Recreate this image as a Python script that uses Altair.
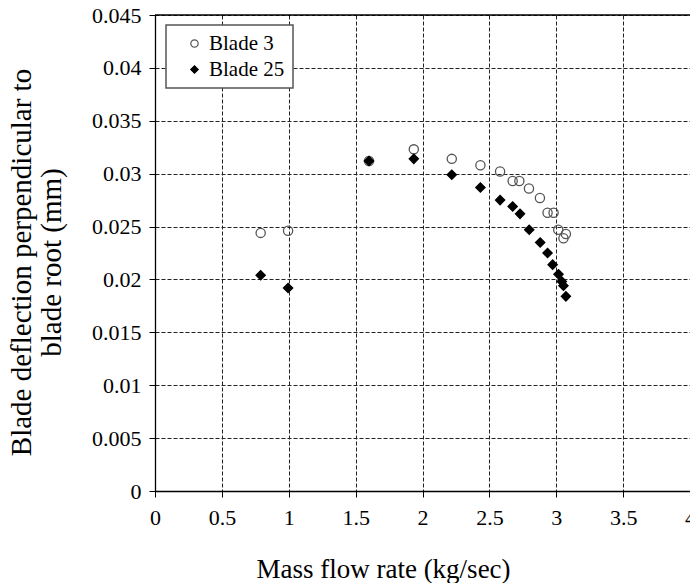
import altair as alt
import pandas as pd

# Blade 3 (open circles)
b3_x = [0.79, 0.995, 1.6, 1.935, 2.219, 2.433, 2.58, 2.674, 2.724, 2.796, 2.878, 2.935, 2.98, 3.015, 3.072, 3.054]
b3_y = [0.0244, 0.0246, 0.0312, 0.0323, 0.0314, 0.0308, 0.0302, 0.0293, 0.0293, 0.0286, 0.0277, 0.0263, 0.0263, 0.0247, 0.0243, 0.0239]
# Blade 25 (filled diamonds)
b25_x = [0.79, 0.995, 1.6, 1.935, 2.219, 2.433, 2.58, 2.674, 2.729, 2.798, 2.88, 2.935, 2.973, 3.017, 3.042, 3.054, 3.072]
b25_y = [0.0204, 0.0192, 0.0312, 0.0314, 0.0299, 0.0287, 0.0275, 0.0269, 0.0262, 0.0247, 0.0235, 0.0225, 0.0214, 0.0205, 0.0198, 0.0194, 0.0184]

series = ["Blade 3", "Blade 25"]
x_ticks = [0, 0.5, 1, 1.5, 2, 2.5, 3, 3.5, 4]
y_ticks = [0, 0.005, 0.01, 0.015, 0.02, 0.025, 0.03, 0.035, 0.04, 0.045]

df = pd.DataFrame({
    "x": b3_x + b25_x,
    "y": b3_y + b25_y,
    "s": [series[0]] * len(b3_x) + [series[1]] * len(b25_x),
})

W, H = 535, 476
FONT = "Liberation Serif"

leg = dict(title=None, orient="none", legendX=11, legendY=10,
           labelFont=FONT, labelFontSize=21, labelColor="black")

points = alt.Chart(df).mark_point(size=85, strokeWidth=1.3, opacity=1).encode(
    x=alt.X("x:Q", scale=alt.Scale(domain=[0, 4], nice=False),
            axis=alt.Axis(values=x_ticks, format="~g", title="Mass flow rate (kg/sec)",
                          titleX=228, titleY=78, titleAlign="center", titleBaseline="middle",
                          titleFontSize=27, labelFont=FONT, labelFontSize=22,
                          labelPadding=10, labelFlush=False, labelOverlap=False)),
    y=alt.Y("y:Q", scale=alt.Scale(domain=[0, 0.045], nice=False),
            axis=alt.Axis(values=y_ticks, format="~g",
                          title=["Blade deflection perpendicular to", "blade root (mm)"],
                          titleAngle=-90, titleX=-148, titleY=247, titleAlign="center",
                          titleBaseline="top", titleLineHeight=30, titleFontSize=29,
                          labelFont=FONT, labelFontSize=22,
                          labelPadding=8, labelFlush=False, labelOverlap=False)),
    shape=alt.Shape("s:N", scale=alt.Scale(domain=series, range=["circle", "diamond"]),
                    legend=alt.Legend(**leg)),
    fill=alt.Fill("s:N", scale=alt.Scale(domain=series, range=["transparent", "black"]),
                  legend=alt.Legend(**leg)),
    stroke=alt.Stroke("s:N", scale=alt.Scale(domain=series, range=["#555555", "black"]),
                      legend=alt.Legend(**leg)),
    order=alt.Order("s:N", sort="descending"),
)

top_rule = alt.Chart(pd.DataFrame({"a": [0]})).mark_rule(color="black", strokeWidth=1.3).encode(
    x=alt.value(0), x2=alt.value(W), y=alt.value(0)
)

chart = alt.layer(points, top_rule).properties(
    width=W, height=H,
    autosize=alt.AutoSizeParams(type="none"),
    padding={"left": 155, "top": 15, "right": 0, "bottom": 92},
).configure(font=FONT).configure_view(strokeWidth=0).configure_axis(
    labelFont=FONT, titleFont=FONT,
    labelColor="black", titleColor="black", titleFontWeight="normal",
    domainColor="black", domainWidth=1.3, tickColor="black", tickSize=6,
    gridColor="#222222", gridDash=[4, 2], gridWidth=1, grid=True,
).configure_legend(
    labelFont=FONT, labelFontSize=21, labelColor="black",
    strokeColor="#555555", strokeWidth=1.5, fillColor="white",
    padding=8, rowPadding=4, symbolSize=55, symbolStrokeWidth=1.2,
    symbolOffset=10, labelOffset=4, cornerRadius=0,
)

chart.save("out.html", embed_options={"renderer": "svg", "actions": False})
